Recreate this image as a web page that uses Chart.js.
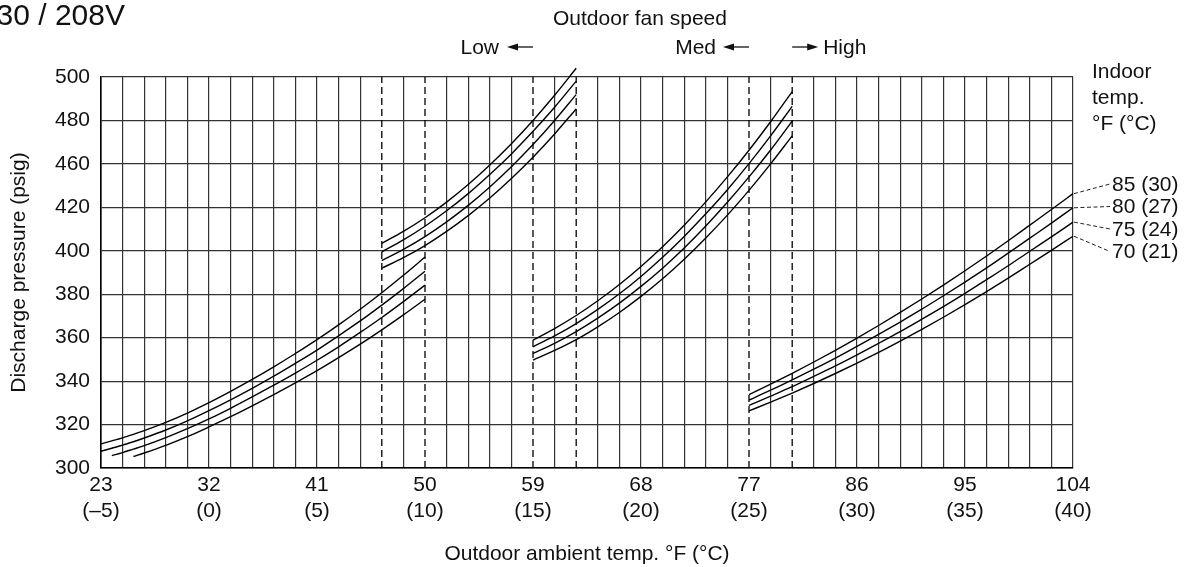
<!DOCTYPE html>
<html>
<head>
<meta charset="utf-8">
<script src="https://cdn.jsdelivr.net/npm/chart.js@4.4.1/dist/chart.umd.min.js"></script>
<style>
  html, body { margin: 0; padding: 0; background: #fff; }
</style>
</head>
<body>
<canvas id="pressureChart" width="1194" height="567"></canvas>
<script>
const FONT = "'Liberation Sans', Arial, sans-serif";

// Axis labels (x is drawn in °C, one grid line per °C)
const xTicksF = ['23', '32', '41', '50', '59', '68', '77', '86', '95', '104'];
const xTicksC = ['(–5)', '(0)', '(5)', '(10)', '(15)', '(20)', '(25)', '(30)', '(35)', '(40)'];
// y labels as printed on the sheet (the 440 line is missing there)
const yTicks = ['300', '320', '340', '360', '380', '400', '420', '460', '480', '500'];

const indoorLabels = ['85 (30)', '80 (27)', '75 (24)', '70 (21)'];
// fan speed change-over temperatures, °C (dashed lines)
const fanChangeC = [8, 10, 15, 17, 25, 27];

// Low fan
const seg1X = [-5, -4.5, -4, -3.5, -3, -2, -1, 0, 1, 2, 3, 4, 5, 6, 7, 8, 9, 10];
const seg1_85 = [311.1, 312.5, 313.9, 315.5, 317.2, 321.0, 325.3, 330.1, 335.3, 340.8, 346.6, 352.7, 359.1, 365.9, 373.1, 380.7, 388.7, 397.1];
const seg1_80 = [307.7, 309.1, 310.5, 312.1, 313.8, 317.5, 321.7, 326.4, 331.4, 336.7, 342.3, 348.2, 354.3, 360.9, 367.7, 375.0, 382.6, 390.6];
const seg1_75 = [null, 305.7, 307.1, 308.7, 310.3, 314.0, 318.1, 322.6, 327.5, 332.7, 338.1, 343.7, 349.6, 355.8, 362.4, 369.3, 376.6, 384.2];
const seg1_70 = [null, null, null, 305.3, 306.9, 310.4, 314.4, 318.9, 323.6, 328.6, 333.8, 339.2, 344.8, 350.8, 357.0, 363.6, 370.5, 377.7];

// Low fan, upper band
const seg2X = [8, 9, 10, 11, 12, 13, 14, 15, 16, 17];
const seg2_85 = [403.4, 408.9, 415.2, 422.4, 430.5, 439.5, 449.3, 460.0, 471.6, 484.0];
const seg2_80 = [399.5, 405.0, 411.3, 418.4, 426.3, 435.1, 444.6, 455.0, 466.1, 478.1];
const seg2_75 = [395.5, 400.6, 406.5, 413.3, 420.9, 429.4, 438.7, 448.9, 460.0, 471.9];
const seg2_70 = [392.0, 396.8, 402.4, 408.9, 416.2, 424.3, 433.3, 443.1, 453.8, 465.3];

// Med fan
const seg3X = [15, 16, 17, 18, 19, 20, 21, 22, 23, 24, 25, 26, 27];
const seg3_85 = [358.9, 364.2, 370.2, 377.0, 384.5, 392.8, 401.9, 411.8, 422.5, 434.0, 446.3, 459.4, 473.3];
const seg3_80 = [355.8, 360.8, 366.5, 373.0, 380.2, 388.2, 397.0, 406.6, 417.0, 428.1, 440.1, 452.9, 466.5];
const seg3_75 = [352.8, 357.4, 362.8, 369.0, 375.9, 383.6, 392.0, 401.3, 411.4, 422.3, 434.0, 446.4, 459.7];
const seg3_70 = [349.7, 354.1, 359.1, 365.0, 371.6, 379.0, 387.1, 396.1, 405.9, 416.4, 427.8, 440.0, 452.9];

// High fan
const seg4X = [25, 26, 27, 28, 29, 30, 31, 32, 33, 34, 35, 36, 37, 38, 39, 40];
const seg4_85 = [333.8, 338.6, 343.6, 348.8, 354.2, 359.8, 365.6, 371.6, 377.8, 384.2, 390.8, 397.6, 404.6, 411.8, 419.0, 426.3];
const seg4_80 = [331.3, 335.8, 340.6, 345.5, 350.6, 356.0, 361.5, 367.2, 373.1, 379.3, 385.6, 392.1, 398.9, 405.8, 412.7, 419.8];
const seg4_75 = [328.8, 333.1, 337.5, 342.2, 347.0, 352.1, 357.4, 362.8, 368.5, 374.3, 380.4, 386.7, 393.1, 399.8, 406.4, 413.2];
const seg4_70 = [326.3, 330.3, 334.5, 338.9, 343.5, 348.3, 353.2, 358.4, 363.8, 369.4, 375.2, 381.2, 387.4, 393.8, 400.2, 406.7];

function toPoints(xs, ys) {
    return xs.map((x, i) => ({ x: x, y: ys[i] })).filter(p => p.y !== null);
}

const curves = [
    [seg1X, seg1_85], [seg1X, seg1_80], [seg1X, seg1_75], [seg1X, seg1_70],
    [seg2X, seg2_85], [seg2X, seg2_80], [seg2X, seg2_75], [seg2X, seg2_70],
    [seg3X, seg3_85], [seg3X, seg3_80], [seg3X, seg3_75], [seg3X, seg3_70],
    [seg4X, seg4_85], [seg4X, seg4_80], [seg4X, seg4_75], [seg4X, seg4_70]
];
const highFanCurves = [seg4_85, seg4_80, seg4_75, seg4_70];

const datasets = curves.map(c => ({
    data: toPoints(c[0], c[1]),
    borderColor: '#000',
    borderWidth: 1.4,
    pointRadius: 0,
    cubicInterpolationMode: 'monotone',
    clip: false
}));

fanChangeC.forEach(t => {
    datasets.push({
        data: [{ x: t, y: 300 }, { x: t, y: 480 }],
        borderColor: '#000',
        borderWidth: 1.3,
        borderDash: [7, 4],
        pointRadius: 0
    });
});

function drawArrow(ctx, tailX, y, headX) {
    const dir = headX < tailX ? -1 : 1;
    ctx.beginPath();
    ctx.moveTo(tailX, y);
    ctx.lineTo(headX - dir * 8, y);
    ctx.stroke();
    ctx.beginPath();
    ctx.moveTo(headX, y);
    ctx.lineTo(headX - dir * 11, y - 3.5);
    ctx.lineTo(headX - dir * 11, y + 3.5);
    ctx.closePath();
    ctx.fill();
}

// texts round the plot: title, fan speed arrows, indoor temp labels
const annotations = {
    id: 'annotations',
    afterDraw(chart) {
        const ctx = chart.ctx;
        const xs = chart.scales.x;
        const ys = chart.scales.y;
        ctx.save();
        ctx.fillStyle = '#111';
        ctx.strokeStyle = '#111';
        ctx.lineWidth = 1.3;

        ctx.font = '30px ' + FONT;
        ctx.textAlign = 'right';
        ctx.fillText('230 / 208V', 125, 25);

        ctx.font = '21px ' + FONT;
        ctx.textAlign = 'center';
        ctx.fillText('Outdoor fan speed', 640, 25);

        const lowX = xs.getPixelForValue(15);
        drawArrow(ctx, lowX, 47, lowX - 26);
        ctx.textAlign = 'right';
        ctx.fillText('Low', lowX - 34, 54);

        const medX = xs.getPixelForValue(25);
        drawArrow(ctx, medX, 47, medX - 26);
        ctx.fillText('Med', medX - 33, 54);

        const highX = xs.getPixelForValue(27);
        drawArrow(ctx, highX, 47, highX + 26);
        ctx.textAlign = 'left';
        ctx.fillText('High', highX + 31, 54);

        ctx.fillText('Indoor', 1092, 78);
        ctx.fillText('temp.', 1092, 104);
        ctx.fillText('°F (°C)', 1092, 130);

        const labelY = [183, 205.5, 228, 250.5];
        ctx.strokeStyle = '#222';
        ctx.lineWidth = 1;
        ctx.setLineDash([4, 2.5]);
        highFanCurves.forEach((vals, i) => {
            ctx.beginPath();
            ctx.moveTo(xs.right + 1, ys.getPixelForValue(vals[vals.length - 1]));
            ctx.lineTo(1110, labelY[i] + 1);
            ctx.stroke();
            ctx.fillText(indoorLabels[i], 1112, labelY[i] + 7.5);
        });
        ctx.restore();
    }
};

function gridColor(ctx) {
    if (ctx.tick && fanChangeC.includes(ctx.tick.value)) return 'rgba(0,0,0,0)';
    return '#333';
}

new Chart(document.getElementById('pressureChart'), {
    type: 'line',
    data: { datasets: datasets },
    options: {
        responsive: false,
        animation: false,
        events: [],
        layout: { autoPadding: false, padding: { top: 77, right: 121, bottom: 0, left: 0 } },
        plugins: { legend: { display: false }, tooltip: { enabled: false } },
        scales: {
            x: {
                type: 'linear',
                min: -5,
                max: 40,
                afterFit(scale) { scale.height = 99; },
                grid: { color: gridColor, lineWidth: 1.2, drawTicks: false },
                border: { color: '#000', width: 1.6 },
                ticks: {
                    stepSize: 1,
                    autoSkip: false,
                    maxRotation: 0,
                    padding: 5,
                    color: '#111',
                    font: { family: FONT, size: 21 },
                    callback: function(value) {
                        if (value % 5 !== 0) return '';
                        const i = (value + 5) / 5;
                        return [xTicksF[i], xTicksC[i]];
                    }
                },
                title: {
                    display: true,
                    text: 'Outdoor ambient temp. °F (°C)',
                    color: '#111',
                    font: { family: FONT, size: 21 },
                    padding: { top: 0, bottom: 0 }
                }
            },
            y: {
                type: 'linear',
                min: 300,
                max: 480,
                afterFit(scale) { scale.width = 101; },
                grid: { color: '#333', lineWidth: 1.2, drawTicks: false },
                border: { color: '#000', width: 1.6 },
                ticks: {
                    stepSize: 20,
                    padding: 11,
                    color: '#111',
                    font: { family: FONT, size: 21 },
                    callback: function(value) {
                        return yTicks[Math.round((value - 300) / 20)];
                    }
                },
                title: {
                    display: true,
                    text: 'Discharge pressure (psig)',
                    color: '#111',
                    font: { family: FONT, size: 21 },
                    padding: { top: 7, bottom: 0 }
                }
            }
        }
    },
    plugins: [annotations]
});
</script>
</body>
</html>
